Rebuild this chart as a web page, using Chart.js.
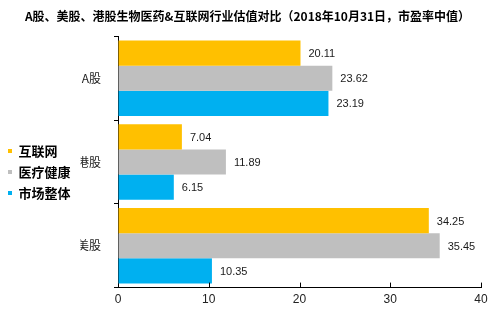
<!DOCTYPE html>
<html>
<head>
<meta charset="utf-8">
<script src="https://cdn.jsdelivr.net/npm/chart.js@4/dist/chart.umd.min.js"></script>
<style>
  html, body { margin: 0; padding: 0; background: #ffffff; }
  #wrap { width: 498px; height: 324px; }
</style>
</head>
<body>
<div id="wrap"><canvas id="c" width="498" height="324"></canvas></div>
<script>
// Median P/E by market, 31 Oct 2018
const categories = ['A股', '港股', '美股'];
const seriesNames = ['互联网', '医疗健康', '市场整体'];
const internet   = [20.11, 7.04, 34.25];
const healthcare = [23.62, 11.89, 35.45];
const market     = [23.19, 6.15, 10.35];
const xMin = 0, xMax = 40, xStep = 10;
const titleText = 'A股、美股、港股生物医药&互联网行业估值对比（2018年10月31日，市盈率中值）';

const colors = ['#FFC000', '#BFBFBF', '#00B0F0'];
const CJK = '"Noto Sans CJK SC", "Noto Sans", sans-serif';
const LATIN = '"Liberation Sans", Arial, sans-serif';

// Value labels to the right of each bar
const valueLabels = {
  id: 'valueLabels',
  afterDatasetsDraw(chart) {
    const ctx = chart.ctx;
    ctx.save();
    ctx.font = '11px ' + LATIN;
    ctx.fillStyle = '#1a1a1a';
    ctx.textAlign = 'left';
    ctx.textBaseline = 'middle';
    chart.data.datasets.forEach((ds, di) => {
      chart.getDatasetMeta(di).data.forEach((bar, i) => {
        ctx.fillText(ds.data[i].toFixed(2), bar.x + 8, bar.y + 1);
      });
    });
    ctx.restore();
  }
};

// Short tick marks on the value axis, pointing into the plot
const innerTicks = {
  id: 'innerTicks',
  afterDraw(chart) {
    const sx = chart.scales.x;
    const ctx = chart.ctx;
    const y0 = chart.chartArea.bottom;
    ctx.save();
    ctx.strokeStyle = '#000';
    ctx.lineWidth = 1;
    sx.ticks.forEach(t => {
      if (t.value === xMin) return;
      const px = Math.round(sx.getPixelForValue(t.value)) + 0.5;
      ctx.beginPath();
      ctx.moveTo(px, y0);
      ctx.lineTo(px, y0 - 5);
      ctx.stroke();
    });
    ctx.restore();
  }
};

const seriesData = [internet, healthcare, market];

new Chart(document.getElementById('c'), {
  type: 'bar',
  data: {
    labels: categories,
    datasets: seriesNames.map((name, k) => ({
      label: name,
      data: seriesData[k],
      backgroundColor: colors[k],
      borderWidth: 0,
      categoryPercentage: 0.9,
      barPercentage: 1.0
    }))
  },
  options: {
    indexAxis: 'y',
    responsive: false,
    animation: false,
    layout: { padding: { left: 0, right: 3, top: 0, bottom: 12 } },
    plugins: {
      title: {
        display: true,
        text: titleText,
        color: '#000',
        font: { family: CJK, size: 12, weight: 'bold' },
        padding: { top: 9, bottom: 13 }
      },
      legend: {
        position: 'left',
        title: { display: true, text: '', font: { size: 10 }, padding: { top: 20, bottom: 0 } },
        labels: {
          boxWidth: 4,
          boxHeight: 4,
          padding: 8,
          color: '#000',
          font: { family: CJK, size: 13, weight: 'bold' }
        }
      },
      tooltip: { enabled: false }
    },
    scales: {
      x: {
        min: xMin,
        max: xMax,
        ticks: {
          stepSize: xStep,
          padding: 5,
          color: '#222',
          font: { family: LATIN, size: 12 }
        },
        grid: { display: true, drawOnChartArea: false, drawTicks: false },
        border: { display: true, color: '#000', width: 1 },
        afterFit(s) {
          // keep the plot's right edge clear of the canvas edge
          s.paddingRight = 17;
        }
      },
      y: {
        ticks: {
          padding: 13,
          color: '#222',
          font: { family: CJK, size: 12 }
        },
        grid: { offset: true, drawOnChartArea: false, drawTicks: true, tickLength: 4, color: '#000' },
        border: { display: true, color: '#000', width: 1 },
        afterFit(s) {
          const lw = s.chart.legend ? s.chart.legend.width : 70;
          s.width = 118 - lw;
        }
      }
    }
  },
  plugins: [valueLabels, innerTicks]
});
</script>
</body>
</html>
